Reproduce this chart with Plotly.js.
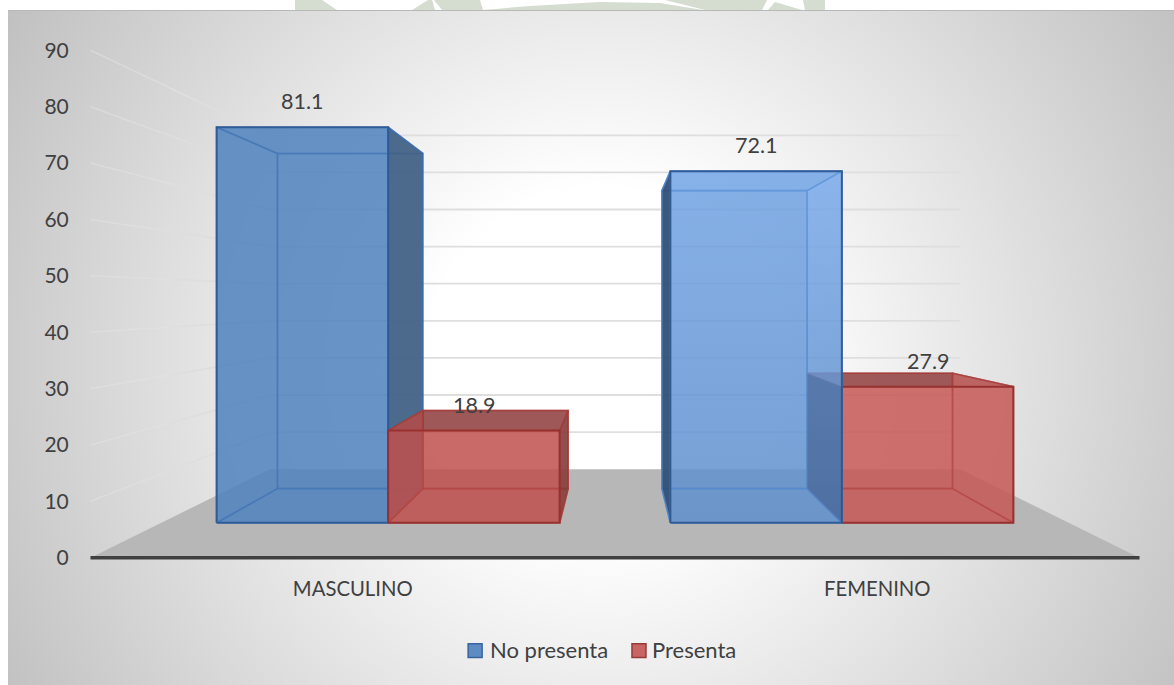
<!DOCTYPE html>
<html>
<head>
<meta charset="utf-8">
<script src="https://cdn.plot.ly/plotly-3.0.1.min.js"></script>
<style>
  html, body { margin: 0; padding: 0; background: #fff; width: 1174px; height: 685px; overflow: hidden; }
  #crest { position: absolute; left: 0; top: 0; width: 1174px; height: 10px; }
  #panel { position: absolute; left: 8px; top: 10px; width: 1166px; height: 675px; box-sizing: border-box;
           border-top: 1px solid #b8b8b8;
           background: radial-gradient(circle 690px at 592px 350px, #ffffff 25%, #c0c0c0 100%); }
  #chart { position: absolute; left: 0; top: 0; width: 1174px; height: 685px; }
</style>
</head>
<body>
<!-- Page crest showing above the chart panel -->
<svg id="crest" viewBox="0 0 1174 10">
  <g fill="#d5dcd0">
    <polygon points="295,0 322,0 337,10 295,10"/>
    <polygon points="412,10 428,0 432,0 435,10"/>
    <polygon points="434,0 480,0 483,10 442,10"/>
    <polygon points="483,10 530,6 600,2 660,3 703,10"/>
    <polygon points="665,0 767,0 762,10 705,10"/>
    <polygon points="768,10 775,2 802,10"/>
    <polygon points="803,0 825,0 825,10 805,10"/>
  </g>
</svg>
<div id="panel"></div>
<div id="chart"></div>
<script>
// Prevalence by sex, in percent
const categories = ['MASCULINO', 'FEMENINO'];
const seriesNames = ['No presenta', 'Presenta'];
const noPresenta = [81.1, 72.1];
const presenta = [18.9, 27.9];
const yTicks = [0, 10, 20, 30, 40, 50, 60, 70, 80, 90];

// Perspective set-up: depth 1 is the plane of the axis, smaller is farther away.
const VANISH_X = 1, VANISH_Y = 45.9;
const DEPTH_BAR_FRONT = 0.865, DEPTH_BAR_BACK = 0.733, DEPTH_WALL = 0.658;
const BAR_WIDTH = 0.378;
const CENTERS = [0.5, 1.5];

const proj = (x, v, d) => [VANISH_X + (x - VANISH_X) * d, VANISH_Y + (v - VANISH_Y) * d];
function poly(points) {
  const closed = points.concat([points[0]]);
  return { x: closed.map(p => p[0]), y: closed.map(p => p[1]) };
}
function face(points, fill, edge, width) {
  const p = poly(points);
  const t = { type: 'scatter', mode: 'lines', x: p.x, y: p.y, fill: 'toself',
              line: { color: edge, width: width === undefined ? 1.6 : width, shape: 'linear' },
              hoverinfo: 'skip', showlegend: false };
  if (Array.isArray(fill)) {
    // [bottom colour, top colour]: a vertical shade across the face
    const ys = p.y;
    t.fillgradient = { type: 'vertical', start: Math.min(...ys), stop: Math.max(...ys),
                       colorscale: [[0, fill[0]], [1, fill[1]]] };
  } else {
    t.fillcolor = fill;
  }
  return t;
}

// One translucent box; each face is projected from the bar's value.
function leftFace(x0, v) {
  const f = DEPTH_BAR_FRONT, b = DEPTH_BAR_BACK;
  return [proj(x0,0,f), proj(x0,0,b), proj(x0,v,b), proj(x0,v,f)];
}
function box(x0, x1, v, st) {
  const P = proj;
  const f = DEPTH_BAR_FRONT, b = DEPTH_BAR_BACK;
  const out = [];
  out.push(face([P(x0,0,b),P(x1,0,b),P(x1,v,b),P(x0,v,b)], st.inner, st.innerEdge));          // back
  out.push(face([P(x0,0,f),P(x1,0,f),P(x1,0,b),P(x0,0,b)], st.inner, st.innerEdge));          // bottom
  out.push(face([P(x0,v,f),P(x1,v,f),P(x1,v,b),P(x0,v,b)], st.top, st.innerEdge));            // top
  out.push(face(leftFace(x0, v), st.left, st.innerEdge));                                      // left
  out.push(face([P(x1,0,f),P(x1,0,b),P(x1,v,b),P(x1,v,f)], st.right, st.innerEdge));          // right
  out.push(face([P(x0,0,f),P(x1,0,f),P(x1,v,f),P(x0,v,f)], st.front, st.frontEdge, 2));       // front
  return out;
}

const blueEdgeIn = 'rgba(60,110,175,0.75)', blueEdge = 'rgba(45,90,150,0.95)';
const redEdgeIn = 'rgba(165,60,58,0.75)', redEdge = 'rgba(150,48,46,0.95)';
const styleBlueM = { inner:'rgba(79,129,189,0.7)', left:'rgba(79,129,189,0.7)', right:'rgba(67,96,128,0.85)', top:'rgba(79,129,189,0.7)',
                     front:'rgba(79,129,189,0.5)', innerEdge:blueEdgeIn, frontEdge:blueEdge };
const styleBlueF = { inner:'rgba(104,154,216,0.7)', left:'rgba(45,75,110,0.88)',
                     right:['rgba(92,140,200,0.7)', 'rgba(124,172,236,0.7)'], top:'rgba(108,158,224,0.7)',
                     front:['rgba(88,136,196,0.5)', 'rgba(118,168,234,0.5)'], innerEdge:'rgba(80,135,205,0.8)', frontEdge:blueEdge };
const styleRedM = { inner:'rgba(192,80,77,0.7)', left:'rgba(192,80,77,0.7)', right:'rgba(124,59,60,0.75)', top:'rgba(124,59,60,0.6)',
                    front:'rgba(192,80,77,0.5)', innerEdge:redEdgeIn, frontEdge:redEdge };
const styleRedF = { inner:'rgba(198,88,86,0.7)', left:'rgba(40,45,70,0.85)', right:'rgba(198,88,86,0.7)', top:'rgba(124,59,60,0.6)',
                    front:'rgba(198,88,86,0.5)', innerEdge:redEdgeIn, frontEdge:redEdge };

const traces = [];

// Floor
traces.push(face([proj(0,0,1), proj(2,0,1), proj(2,0,DEPTH_WALL), proj(0,0,DEPTH_WALL)], '#b7b7b7', 'rgba(0,0,0,0)', 0));

// Gridlines on the back wall, and on the left wall where they fade towards the viewer
yTicks.slice(1).forEach(t => {
  const a = proj(0,t,1), m = proj(0,t,0.85), b = proj(0,t,DEPTH_WALL), c = proj(2,t,DEPTH_WALL);
  traces.push({ type:'scatter', mode:'lines', x:[a[0],m[0]], y:[a[1],m[1]],
                line:{ color:'rgba(226,226,226,0.55)', width:1.6 }, hoverinfo:'skip', showlegend:false });
  traces.push({ type:'scatter', mode:'lines', x:[m[0],b[0],c[0]], y:[m[1],b[1],c[1]],
                line:{ color:'#dedede', width:1.8 }, hoverinfo:'skip', showlegend:false });
});

// Axis baseline
traces.push({ type:'scatter', mode:'lines', x:[0,2], y:[0,0],
              line:{ color:'#404040', width:3.6 }, hoverinfo:'skip', showlegend:false });

// Boxes, far ones first
const bw = BAR_WIDTH;
traces.push(...box(CENTERS[0]-bw, CENTERS[0], noPresenta[0], styleBlueM));
traces.push(...box(CENTERS[0], CENTERS[0]+bw, presenta[0], styleRedM));
traces.push(...box(CENTERS[1], CENTERS[1]+bw, presenta[1], styleRedF));
traces.push(...box(CENTERS[1]-bw, CENTERS[1], noPresenta[1], styleBlueF));
// Shade where the red box's side shows through the blue one
traces.push(face(leftFace(CENTERS[1], presenta[1]), 'rgba(50,60,90,0.2)', 'rgba(0,0,0,0)', 0));

// Value labels above the front top edge of each box
const font = 'Lato, Carlito, sans-serif';
const labels = [];
[[noPresenta, -bw/2], [presenta, bw/2]].forEach(([vals, off]) => vals.forEach((v, i) => {
  const p = proj(CENTERS[i] + off, v, DEPTH_BAR_FRONT);
  labels.push({ x:p[0], y:p[1], xref:'x', yref:'y', text:v.toFixed(1), showarrow:false, yshift:26,
                font:{ family:font, size:21.5, color:'#404040' } });
}));

// Plot frame: one axis unit on x is 525 px, ten on y are 56.44 px
const PW = 1174, PH = 685;
const M = { l:79.5, r:23.5, t:38.71, b:115.71 };
const pxX = px => (px - M.l) / (PW - M.l - M.r);
const pxY = py => 1 - (py - M.t) / (PH - M.t - M.b);

// Legend
const legendItems = [
  { name: seriesNames[0], sx: 468, tx: 488, fill: '#5f8bc3', edge: '#36659f' },
  { name: seriesNames[1], sx: 632, tx: 650, fill: '#c76664', edge: '#9a3a38' }
];
const shapes = [];
legendItems.forEach(it => {
  shapes.push({ type:'rect', xref:'paper', yref:'paper', x0:pxX(it.sx), x1:pxX(it.sx+14),
                y0:pxY(658), y1:pxY(644), fillcolor:it.fill, line:{ color:it.edge, width:1.5 } });
  labels.push({ xref:'paper', yref:'paper', x:pxX(it.tx), y:pxY(650), xanchor:'left', yanchor:'middle',
                text:it.name, showarrow:false, font:{ family:font, size:22, color:'#404040' } });
});

const layout = {
  width: PW, height: PH,
  margin: { l:M.l, r:M.r, t:M.t, b:M.b, pad:0 },
  paper_bgcolor: 'rgba(0,0,0,0)', plot_bgcolor: 'rgba(0,0,0,0)',
  showlegend: false,
  font: { family: font, color:'#404040' },
  xaxis: { range:[-0.02,2.02], tickmode:'array', tickvals:CENTERS, ticktext:categories, showgrid:false, zeroline:false, showline:false,
           ticks:'outside', ticklen:2, tickcolor:'rgba(0,0,0,0)', tickfont:{ family:font, size:20.3, color:'#404040' } },
  yaxis: { range:[-2,92], tickmode:'array', tickvals:yTicks, showgrid:false, zeroline:false, showline:false,
           ticks:'outside', ticklen:6, tickcolor:'rgba(0,0,0,0)', tickfont:{ family:font, size:21, color:'#404040' } },
  annotations: labels,
  shapes: shapes
};
Plotly.newPlot('chart', traces, layout, { displayModeBar:false, staticPlot:true });
</script>
</body>
</html>
